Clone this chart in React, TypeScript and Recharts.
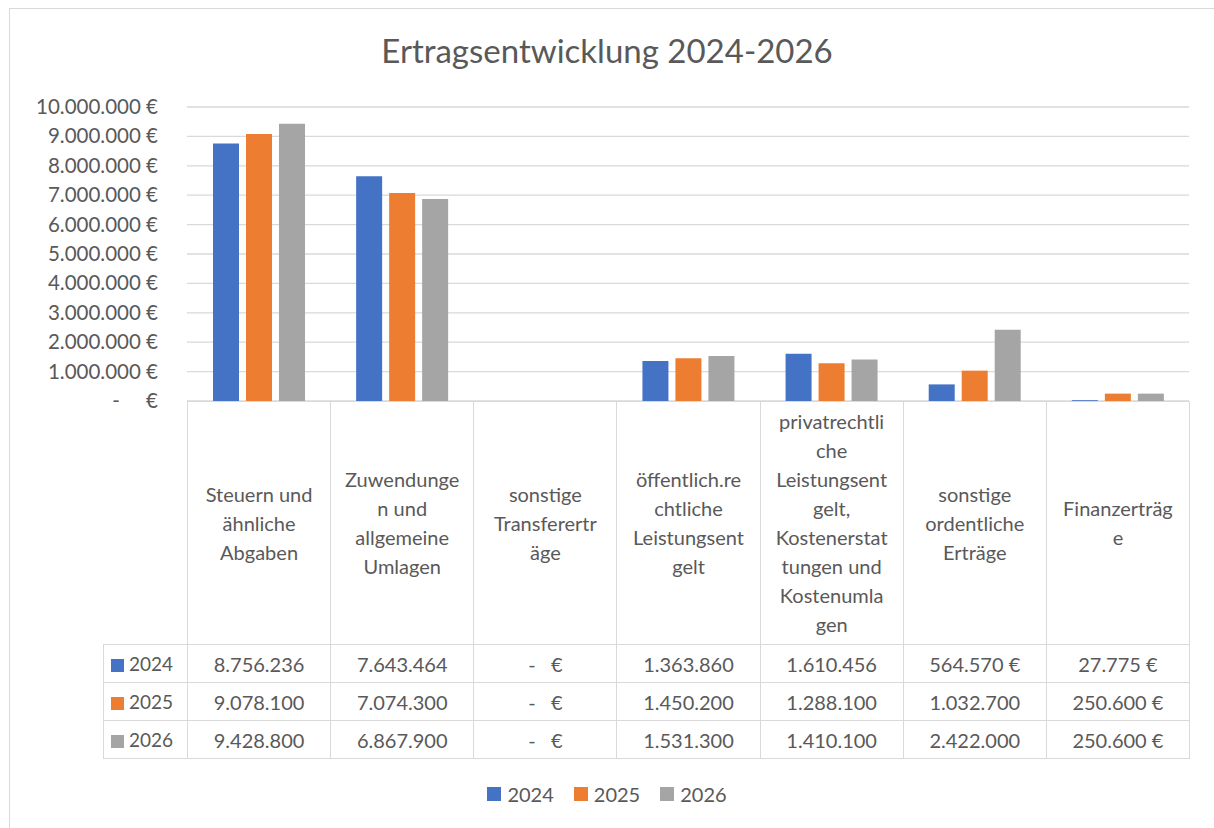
import React from "react";
import { BarChart, Bar, XAxis, YAxis, CartesianGrid } from "recharts";

const categories = [
  "Steuern und ähnliche Abgaben",
  "Zuwendungen und allgemeine Umlagen",
  "sonstige Transfererträge",
  "öffentlich.rechtliche Leistungsentgelt",
  "privatrechtliche Leistungsentgelt, Kostenerstattungen und Kostenumlagen",
  "sonstige ordentliche Erträge",
  "Finanzerträge",
];

// the way Excel wrapped the category names in the data table
const categoryLines = [
  ["Steuern und", "ähnliche", "Abgaben"],
  ["Zuwendunge", "n und", "allgemeine", "Umlagen"],
  ["sonstige", "Transferertr", "äge"],
  ["öffentlich.re", "chtliche", "Leistungsent", "gelt"],
  ["privatrechtli", "che", "Leistungsent", "gelt,", "Kostenerstat", "tungen und", "Kostenumla", "gen"],
  ["sonstige", "ordentliche", "Erträge"],
  ["Finanzerträg", "e"],
];

const years = ["2024", "2025", "2026"];
const values2024 = [8756236, 7643464, 0, 1363860, 1610456, 564570, 27775];
const values2025 = [9078100, 7074300, 0, 1450200, 1288100, 1032700, 250600];
const values2026 = [9428800, 6867900, 0, 1531300, 1410100, 2422000, 250600];
const yTicks = [0, 1000000, 2000000, 3000000, 4000000, 5000000, 6000000, 7000000, 8000000, 9000000, 10000000];

const COLORS = ["#4472C4", "#ED7D31", "#A5A5A5"];
const seriesValues = [values2024, values2025, values2026];

const data = categories.map((name, i) => ({
  name,
  y2024: values2024[i],
  y2025: values2025[i],
  y2026: values2026[i],
}));

const TEXT = "#595959";
const LINE = "#d9d9d9";
const FONT = "Lato, 'Open Sans', sans-serif";

const W = 1214;
const H = 828;
const PLOT_LEFT = 187;
const PLOT_RIGHT = 1189;
const PLOT_TOP = 107;
const PLOT_BOTTOM = 401;
const TABLE_LEFT = 103;
const BAND = (PLOT_RIGHT - PLOT_LEFT) / categories.length;

const group = (n: number) => String(Math.round(n)).replace(/\B(?=(\d{3})+(?!\d))/g, ".");

// Excel accounting style: dash for zero, euro sign only where it fits
const cellFormat = (n: number) => {
  if (n === 0) return "-   €";
  return n < 1000000 ? `${group(n)} €` : group(n);
};

const YTick = (props: any) => {
  const { x, y, payload } = props;
  const v = payload.value;
  return (
    <text
      x={x}
      y={y}
      dy={7}
      textAnchor="end"
      fill={TEXT}
      fontSize={20.5}
      fontFamily={FONT}
      style={{ whiteSpace: "pre" }}
    >
      {v === 0 ? "-     €" : `${group(v)} €`}
    </text>
  );
};

const cellBorder = `1px solid ${LINE}`;

const DataTable = () => (
  <table
    style={{
      position: "absolute",
      left: TABLE_LEFT,
      top: PLOT_BOTTOM,
      width: PLOT_RIGHT - TABLE_LEFT,
      borderCollapse: "collapse",
      tableLayout: "fixed",
      fontFamily: FONT,
      fontSize: 20,
      color: TEXT,
    }}
  >
    <colgroup>
      <col style={{ width: PLOT_LEFT - TABLE_LEFT }} />
      {categories.map((c) => (
        <col key={c} style={{ width: BAND }} />
      ))}
    </colgroup>
    <tbody>
      <tr style={{ height: 243 }}>
        <td style={{ padding: 0, border: "none" }} />
        {categoryLines.map((lines, i) => (
          <td
            key={i}
            style={{
              padding: 0,
              border: cellBorder,
              textAlign: "center",
              verticalAlign: "middle",
              lineHeight: "29px",
              whiteSpace: "nowrap",
            }}
          >
            {lines.map((l, j) => (
              <div key={j}>{l}</div>
            ))}
          </td>
        ))}
      </tr>
      {years.map((yr, s) => (
        <tr key={yr} style={{ height: 38 }}>
          <td style={{ padding: 0, border: cellBorder, whiteSpace: "nowrap", fontSize: 19 }}>
            <span
              style={{
                display: "inline-block",
                width: 13,
                height: 13,
                background: COLORS[s],
                marginLeft: 7,
                marginRight: 5,
                verticalAlign: "-1px",
              }}
            />
            {yr}
          </td>
          {seriesValues[s].map((v, i) => (
            <td
              key={i}
              style={{ padding: 0, border: cellBorder, textAlign: "center", whiteSpace: "pre" }}
            >
              {cellFormat(v)}
            </td>
          ))}
        </tr>
      ))}
    </tbody>
  </table>
);

const LegendRow = () => (
  <div
    style={{
      position: "absolute",
      left: 0,
      top: 782,
      width: W,
      display: "flex",
      justifyContent: "center",
      gap: 20,
      fontFamily: FONT,
      fontSize: 20,
      color: TEXT,
    }}
  >
    {years.map((yr, s) => (
      <div key={yr} style={{ display: "flex", alignItems: "center" }}>
        <span style={{ width: 14, height: 14, background: COLORS[s], marginRight: 6 }} />
        {yr}
      </div>
    ))}
  </div>
);

export default function App() {
  return (
    <div
      style={{
        position: "absolute",
        left: 0,
        top: 0,
        width: W,
        height: H,
        overflow: "hidden",
        background: "#fff",
      }}
    >
      {/* chart area frame, runs off the right and bottom of the picture */}
      <div
        style={{
          position: "absolute",
          left: 9,
          top: 8,
          width: W + 20,
          height: H + 20,
          border: `1px solid ${LINE}`,
        }}
      />
      <div
        style={{
          position: "absolute",
          left: 0,
          top: 30,
          width: W,
          textAlign: "center",
          fontFamily: FONT,
          fontSize: 33,
          color: TEXT,
        }}
      >
        Ertragsentwicklung 2024-2026
      </div>
      <div style={{ position: "absolute", left: 0, top: 0 }}>
        <BarChart
          width={W}
          height={H}
          data={data}
          margin={{ top: PLOT_TOP, right: W - PLOT_RIGHT, left: 0, bottom: H - PLOT_BOTTOM }}
          barGap={7}
          barCategoryGap={26}
        >
          <CartesianGrid vertical={false} stroke={LINE} strokeWidth={1.3} />
          <XAxis dataKey="name" tick={false} tickLine={false} axisLine={{ stroke: LINE }} height={0} />
          <YAxis
            width={PLOT_LEFT}
            domain={[0, 10000000]}
            ticks={yTicks}
            tick={<YTick />}
            tickLine={false}
            axisLine={false}
            tickSize={0}
            tickMargin={29}
            interval={0}
          />
          <Bar dataKey="y2024" name="2024" fill={COLORS[0]} isAnimationActive={false} />
          <Bar dataKey="y2025" name="2025" fill={COLORS[1]} isAnimationActive={false} />
          <Bar dataKey="y2026" name="2026" fill={COLORS[2]} isAnimationActive={false} />
        </BarChart>
      </div>
      <DataTable />
      <LegendRow />
    </div>
  );
}
